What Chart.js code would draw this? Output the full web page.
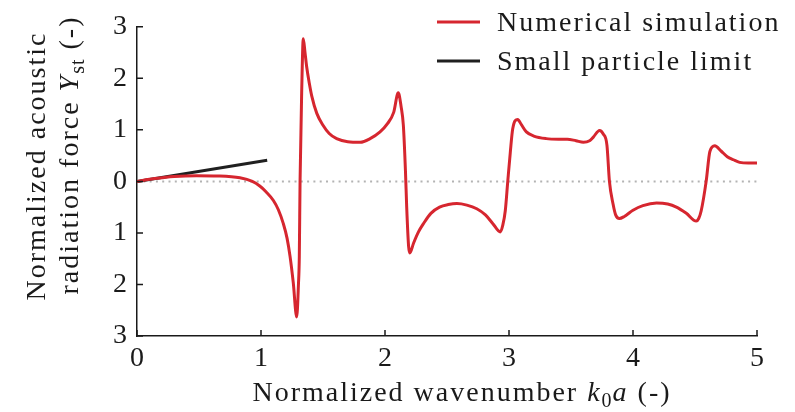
<!DOCTYPE html>
<html>
<head>
<meta charset="utf-8">
<script src="https://cdn.jsdelivr.net/npm/chart.js@4"></script>
<style>
html,body{margin:0;padding:0;background:#fff;}
#wrap{width:795px;height:412px;position:relative;}
</style>
</head>
<body>
<div id="wrap"><canvas id="c" width="795" height="412"></canvas></div>
<script>
// ---- data ----
const simX = [0,0.1,0.2,0.3,0.48,0.65,0.83,0.93,0.99,1.04,1.10,1.14,1.18,1.21,1.234,1.26,1.288,1.302,1.309,1.315,1.328,1.341,1.355,1.368,1.39,1.409,1.45,1.50,1.55,1.61,1.70,1.80,1.88,1.96,2.02,2.07,2.107,2.13,2.148,2.165,2.175,2.19,2.20,2.23,2.27,2.31,2.37,2.44,2.51,2.58,2.66,2.74,2.81,2.87,2.93,2.95,2.97,2.99,3.01,3.03,3.07,3.10,3.14,3.20,3.30,3.40,3.47,3.54,3.60,3.65,3.68,3.73,3.76,3.79,3.81,3.84,3.86,3.89,3.93,4.00,4.08,4.19,4.28,4.35,4.43,4.51,4.53,4.55,4.59,4.62,4.66,4.71,4.76,4.81,4.86,4.93,5.0];
const simY = [0,0.04,0.07,0.095,0.11,0.105,0.07,0.0,-0.09,-0.2,-0.37,-0.55,-0.82,-1.1,-1.45,-1.96,-2.63,-2.0,-1.45,0,1.72,2.77,2.5,2.23,1.9,1.66,1.32,1.09,0.93,0.83,0.77,0.76,0.83,0.96,1.12,1.34,1.72,1.45,1.09,0.2,-0.5,-1.25,-1.39,-1.2,-0.98,-0.82,-0.62,-0.50,-0.45,-0.43,-0.46,-0.53,-0.65,-0.82,-0.98,-0.85,-0.57,0,0.55,1.02,1.20,1.10,0.96,0.88,0.83,0.82,0.82,0.79,0.76,0.79,0.86,0.99,0.92,0.70,0,-0.45,-0.65,-0.72,-0.68,-0.56,-0.47,-0.42,-0.44,-0.50,-0.62,-0.77,-0.72,-0.57,0,0.58,0.69,0.59,0.48,0.42,0.37,0.355,0.355];
const limitX = [0, 1.05];
const limitY = [0, 0.41];
const zeroX = [0, 5];
const zeroY = [0, 0];
const seriesLabels = ['Numerical simulation', 'Small particle limit'];
const xTickValues = [0,1,2,3,4,5];
const yTickValues = [-3,-2,-1,0,1,2,3];

const toPts = (xs, ys) => xs.map((x, i) => ({x: x, y: ys[i]}));

const SERIF = '"Liberation Serif", "DejaVu Serif", serif';
const FS = 28;
const LS = 2; // letter spacing

function drawRich(ctx, segs, x, y, size, align) {
  const chars = [];
  segs.forEach(s => {
    const fs = s.sub ? Math.round(size * 0.7) : size;
    const font = (s.italic ? 'italic ' : '') + fs + 'px ' + SERIF;
    ctx.font = font;
    for (const ch of s.t) {
      chars.push({ch, font, w: ctx.measureText(ch).width + (s.sub ? LS * 0.5 : LS), sub: s.sub});
    }
  });
  const total = chars.reduce((a, c) => a + c.w, 0) - LS;
  let cx = align === 'left' ? x : x - total / 2;
  ctx.textAlign = 'left';
  ctx.textBaseline = 'alphabetic';
  chars.forEach(c => {
    ctx.font = c.font;
    ctx.fillText(c.ch, cx, y + (c.sub ? size * 0.2 : 0));
    cx += c.w;
  });
}

const decor = {
  id: 'decor',
  afterDraw(chart) {
    const ctx = chart.ctx;
    const xs = chart.scales.x, ys = chart.scales.y;
    const ca = chart.chartArea;
    ctx.save();
    // inward tick marks
    ctx.strokeStyle = '#1a1a1a';
    ctx.lineWidth = 1.5;
    ctx.beginPath();
    xTickValues.forEach(v => {
      const px = xs.getPixelForValue(v);
      ctx.moveTo(px, ca.bottom);
      ctx.lineTo(px, ca.bottom - 6);
    });
    yTickValues.forEach(v => {
      const py = ys.getPixelForValue(v);
      ctx.moveTo(ca.left, py);
      ctx.lineTo(ca.left + 6, py);
    });
    ctx.stroke();
    // axis titles
    ctx.fillStyle = '#1a1a1a';
    drawRich(ctx, [{t:'Normalized wavenumber '},{t:'k',italic:true},{t:'0',sub:true},{t:'a',italic:true},{t:' (-)'}],
      461, 401, FS);
    ctx.save();
    ctx.translate(45, 167);
    ctx.rotate(-Math.PI / 2);
    drawRich(ctx, [{t:'Normalized acoustic'}], 0, 0, FS);
    ctx.restore();
    ctx.save();
    ctx.translate(78, 156);
    ctx.rotate(-Math.PI / 2);
    drawRich(ctx, [{t:'radiation force '},{t:'Y',italic:true},{t:'st',sub:true},{t:' (-)'}], 0, 0, FS);
    ctx.restore();
    // legend
    seriesLabels.forEach((lab, i) => {
      const d = chart.data.datasets.find(z => z.label === lab);
      const yy = 22 + i * 39;
      ctx.strokeStyle = d.borderColor;
      ctx.lineWidth = 3;
      ctx.beginPath();
      ctx.moveTo(437, yy);
      ctx.lineTo(480, yy);
      ctx.stroke();
      ctx.fillStyle = '#1a1a1a';
      drawRich(ctx, [{t: lab}], 497, yy + 9, FS, 'left');
    });
    ctx.restore();
  }
};

new Chart(document.getElementById('c'), {
  type: 'line',
  data: {
    datasets: [
      {
        label: 'zero',
        data: toPts(zeroX, zeroY),
        borderColor: '#b3b3b3',
        borderWidth: 2,
        borderDash: [2, 4.3],
        pointRadius: 0,
        order: 3
      },
      {
        label: seriesLabels[1],
        data: toPts(limitX, limitY),
        borderColor: '#202020',
        borderWidth: 3,
        pointRadius: 0,
        order: 2
      },
      {
        label: seriesLabels[0],
        data: toPts(simX, simY),
        borderColor: '#d6262f',
        borderWidth: 3,
        pointRadius: 0,
        cubicInterpolationMode: 'monotone',
        order: 1
      }
    ]
  },
  options: {
    responsive: false,
    animation: false,
    layout: { padding: { top: 20, right: 38, left: 0, bottom: 0 } },
    plugins: { legend: { display: false }, tooltip: { enabled: false } },
    scales: {
      x: {
        type: 'linear', min: 0, max: 5,
        afterBuildTicks: s => { s.ticks = xTickValues.map(v => ({value: v})); },
        afterFit: s => { s.height = 76; },
        grid: { display: true, drawOnChartArea: false, drawTicks: false },
        border: { display: true, color: '#1a1a1a', width: 1.5 },
        ticks: { color: '#1a1a1a', font: { family: SERIF, size: FS }, padding: 6, maxRotation: 0 }
      },
      y: {
        type: 'linear', min: -3, max: 3,
        afterBuildTicks: s => { s.ticks = yTickValues.map(v => ({value: v})); },
        afterFit: s => { s.width = 137; },
        grid: { display: true, drawOnChartArea: false, drawTicks: false },
        border: { display: true, color: '#1a1a1a', width: 1.5 },
        ticks: { color: '#1a1a1a', font: { family: SERIF, size: FS }, padding: 10,
          callback: v => String(Math.abs(v)) }
      }
    }
  },
  plugins: [decor]
});
</script>
</body>
</html>
